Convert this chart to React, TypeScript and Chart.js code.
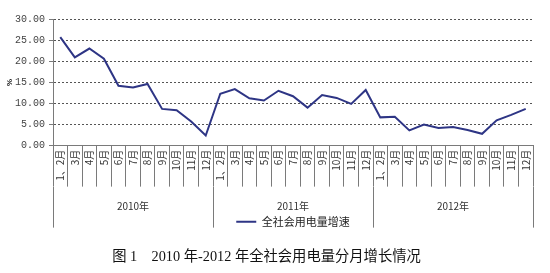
import React, { useEffect, useRef } from 'react';
import { Chart, registerables } from 'chart.js';

Chart.register(...registerables);

const years = ['2010年', '2011年', '2012年'];
const monthLabels = ['1、2月', '3月', '4月', '5月', '6月', '7月', '8月', '9月', '10月', '11月', '12月'];
const categories = years.flatMap(() => monthLabels);

const growth2010 = [25.7, 20.9, 23.0, 20.6, 14.2, 13.8, 14.6, 8.7, 8.4, 5.7, 2.4];
const growth2011 = [12.3, 13.4, 11.2, 10.7, 13.0, 11.7, 9.0, 12.0, 11.3, 9.9, 13.2];
const growth2012 = [6.7, 6.85, 3.6, 5.0, 4.2, 4.4, 3.7, 2.8, 6.0, 7.3, 8.7];
const growthValues = [...growth2010, ...growth2011, ...growth2012];

const yMin = 0;
const yMax = 30;
const yStep = 5;

const seriesName = '全社会用电量增速';
const yTitle = '%';
const caption = '图 1　2010 年-2012 年全社会用电量分月增长情况';

const axisGray = '#7a7a7a';

export default function App() {
  const canvasRef = useRef<HTMLCanvasElement | null>(null);

  useEffect(() => {
    document.body.style.margin = '0';
    const canvas = canvasRef.current;
    if (!canvas) return;
    const chart = new Chart(canvas, {
      type: 'line',
      data: {
        labels: categories,
        datasets: [
          {
            label: seriesName,
            data: growthValues,
            borderColor: '#2e3585',
            backgroundColor: '#2e3585',
            borderWidth: 2,
            pointRadius: 0,
            tension: 0,
            fill: false,
            xAxisID: 'x',
            yAxisID: 'y',
          },
        ],
      },
      options: {
        animation: false,
        responsive: false,
        devicePixelRatio: 1,
        layout: { padding: { top: 19, right: 17, left: 0, bottom: 0 } },
        plugins: {
          tooltip: { enabled: false },
          legend: {
            position: 'bottom',
            fullSize: false,
            labels: {
              usePointStyle: true,
              pointStyle: 'line',
              pointStyleWidth: 20,
              boxHeight: 11,
              padding: 4,
              color: '#222',
              font: { family: "'Noto Sans CJK SC'", size: 11 },
            },
          },
          title: {
            display: true,
            position: 'bottom',
            text: caption,
            color: '#111',
            font: { family: "'Liberation Serif', 'Noto Sans CJK SC'", size: 14.3, weight: 'normal', lineHeight: 1.2 },
            padding: { top: 11, bottom: 7.6 },
          },
        },
        scales: {
          x: {
            type: 'category',
            position: 'bottom',
            offset: true,
            weight: 0,
            grid: {
              offset: true,
              drawOnChartArea: false,
              drawTicks: true,
              tickLength: 41,
              tickColor: axisGray,
              color: axisGray,
            },
            border: { display: true, color: axisGray },
            ticks: {
              autoSkip: false,
              maxRotation: 90,
              minRotation: 90,
              padding: -37,
              color: '#333',
              font: { family: "'Noto Sans CJK SC'", size: 10 },
            },
            afterFit: (s: any) => {
              s.height = 41;
            },
          },
          x2: {
            type: 'category',
            labels: years,
            position: 'bottom',
            offset: true,
            weight: 1,
            grid: {
              offset: true,
              drawOnChartArea: false,
              drawTicks: true,
              tickLength: 41,
              tickColor: axisGray,
              color: axisGray,
            },
            border: { display: false },
            ticks: {
              autoSkip: false,
              maxRotation: 0,
              minRotation: 0,
              padding: -27,
              color: '#333',
              font: { family: "'Noto Sans CJK SC'", size: 10 },
            },
            afterFit: (s: any) => {
              s.height = 25.6;
            },
          },
          y: {
            min: yMin,
            max: yMax,
            grid: {
              color: '#555555',
              lineWidth: 1,
              drawTicks: true,
              tickLength: 4,
              tickColor: axisGray,
            },
            border: { display: true, color: axisGray, dash: [2, 2] },
            ticks: {
              stepSize: yStep,
              padding: 4,
              color: '#444',
              font: { family: "'Liberation Mono'", size: 10 },
              callback: (v: any) => Number(v).toFixed(2),
            },
            title: {
              display: true,
              text: yTitle,
              color: '#111',
              font: { size: 8, weight: 'bold' },
              padding: { top: 5, bottom: 0 },
            },
            afterFit: (s: any) => {
              s.width = 53;
            },
          },
        },
      },
    });
    return () => chart.destroy();
  }, []);

  return (
    <div style={{ width: 550, height: 273 }}>
      <canvas ref={canvasRef} width={550} height={273} />
    </div>
  );
}
